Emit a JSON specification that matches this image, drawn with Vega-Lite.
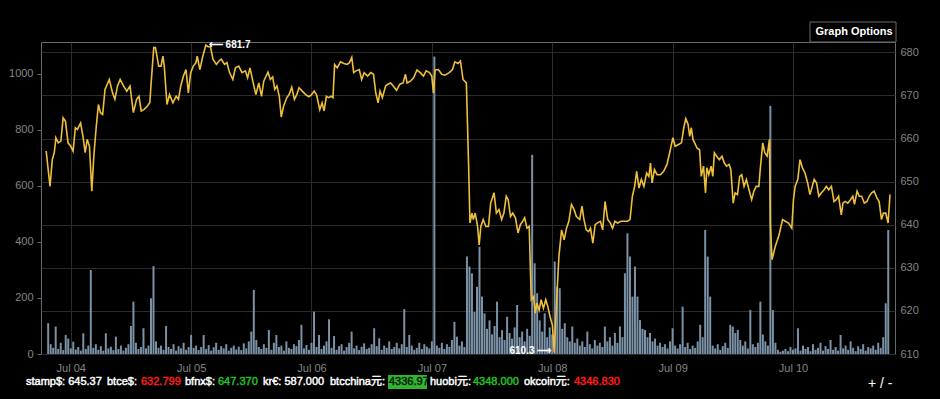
{
"$schema": "https://vega.github.io/schema/vega-lite/v6.json",
"width": 854, "height": 312, "autosize": "none",
"padding": {"left": 41, "top": 42, "right": 45, "bottom": 45},
"background": "#000000",
"config": {
  "view": {"stroke": "#6a6a6a", "strokeWidth": 1},
  "font": "Liberation Sans",
  "axis": {"labelFont": "Liberation Sans", "labelFontSize": 11, "labelColor": "#858585", "domain": false, "gridColor": "#2c2c2c", "gridWidth": 1},
  "axisX": {"ticks": false, "labelPadding": 8, "grid": true, "format": "%b %d", "labelFlush": false, "tickCount": {"interval": "day", "step": 1}},
  "text": {"font": "Liberation Sans, Noto Sans CJK SC", "fontSize": 11, "baseline": "middle", "align": "left", "strokeWidth": 0.45}
},
"datasets": {
"volume": [
{"t":"2014-07-03T19:30","v":110},{"t":"2014-07-03T20:00","v":35},{"t":"2014-07-03T20:30","v":22},{"t":"2014-07-03T21:00","v":98},{"t":"2014-07-03T21:30","v":18},{"t":"2014-07-03T22:00","v":40},{"t":"2014-07-03T22:30","v":14},{"t":"2014-07-03T23:00","v":68},{"t":"2014-07-03T23:30","v":55},
{"t":"2014-07-04T00:00","v":20},{"t":"2014-07-04T00:30","v":44},{"t":"2014-07-04T01:00","v":16},{"t":"2014-07-04T01:30","v":25},{"t":"2014-07-04T02:00","v":12},{"t":"2014-07-04T02:30","v":74},{"t":"2014-07-04T03:00","v":18},{"t":"2014-07-04T03:30","v":30},{"t":"2014-07-04T04:00","v":300},{"t":"2014-07-04T04:30","v":22},{"t":"2014-07-04T05:00","v":35},{"t":"2014-07-04T05:30","v":15},{"t":"2014-07-04T06:00","v":28},{"t":"2014-07-04T06:30","v":12},{"t":"2014-07-04T07:00","v":74},{"t":"2014-07-04T07:30","v":20},{"t":"2014-07-04T08:00","v":26},{"t":"2014-07-04T08:30","v":14},{"t":"2014-07-04T09:00","v":62},{"t":"2014-07-04T09:30","v":18},{"t":"2014-07-04T10:00","v":30},{"t":"2014-07-04T10:30","v":12},{"t":"2014-07-04T11:00","v":22},{"t":"2014-07-04T11:30","v":35},{"t":"2014-07-04T12:00","v":100},{"t":"2014-07-04T12:30","v":187},{"t":"2014-07-04T13:00","v":40},{"t":"2014-07-04T13:30","v":18},{"t":"2014-07-04T14:00","v":25},{"t":"2014-07-04T14:30","v":92},{"t":"2014-07-04T15:00","v":20},{"t":"2014-07-04T15:30","v":30},{"t":"2014-07-04T16:00","v":199},{"t":"2014-07-04T16:30","v":314},{"t":"2014-07-04T17:00","v":45},{"t":"2014-07-04T17:30","v":22},{"t":"2014-07-04T18:00","v":30},{"t":"2014-07-04T18:30","v":15},{"t":"2014-07-04T19:00","v":100},{"t":"2014-07-04T19:30","v":25},{"t":"2014-07-04T20:00","v":18},{"t":"2014-07-04T20:30","v":35},{"t":"2014-07-04T21:00","v":12},{"t":"2014-07-04T21:30","v":28},{"t":"2014-07-04T22:00","v":20},{"t":"2014-07-04T22:30","v":40},{"t":"2014-07-04T23:00","v":15},{"t":"2014-07-04T23:30","v":25},
{"t":"2014-07-05T00:00","v":68},{"t":"2014-07-05T00:30","v":22},{"t":"2014-07-05T01:00","v":30},{"t":"2014-07-05T01:30","v":14},{"t":"2014-07-05T02:00","v":25},{"t":"2014-07-05T02:30","v":68},{"t":"2014-07-05T03:00","v":18},{"t":"2014-07-05T03:30","v":32},{"t":"2014-07-05T04:00","v":12},{"t":"2014-07-05T04:30","v":24},{"t":"2014-07-05T05:00","v":40},{"t":"2014-07-05T05:30","v":15},{"t":"2014-07-05T06:00","v":28},{"t":"2014-07-05T06:30","v":20},{"t":"2014-07-05T07:00","v":35},{"t":"2014-07-05T07:30","v":12},{"t":"2014-07-05T08:00","v":22},{"t":"2014-07-05T08:30","v":30},{"t":"2014-07-05T09:00","v":16},{"t":"2014-07-05T09:30","v":26},{"t":"2014-07-05T10:00","v":14},{"t":"2014-07-05T10:30","v":38},{"t":"2014-07-05T11:00","v":20},{"t":"2014-07-05T11:30","v":45},{"t":"2014-07-05T12:00","v":80},{"t":"2014-07-05T12:30","v":229},{"t":"2014-07-05T13:00","v":50},{"t":"2014-07-05T13:30","v":25},{"t":"2014-07-05T14:00","v":18},{"t":"2014-07-05T14:30","v":35},{"t":"2014-07-05T15:00","v":22},{"t":"2014-07-05T15:30","v":86},{"t":"2014-07-05T16:00","v":15},{"t":"2014-07-05T16:30","v":40},{"t":"2014-07-05T17:00","v":68},{"t":"2014-07-05T17:30","v":25},{"t":"2014-07-05T18:00","v":30},{"t":"2014-07-05T18:30","v":12},{"t":"2014-07-05T19:00","v":45},{"t":"2014-07-05T19:30","v":22},{"t":"2014-07-05T20:00","v":18},{"t":"2014-07-05T20:30","v":35},{"t":"2014-07-05T21:00","v":28},{"t":"2014-07-05T21:30","v":50},{"t":"2014-07-05T22:00","v":104},{"t":"2014-07-05T22:30","v":20},{"t":"2014-07-05T23:00","v":32},{"t":"2014-07-05T23:30","v":15},
{"t":"2014-07-06T00:00","v":40},{"t":"2014-07-06T00:30","v":151},{"t":"2014-07-06T01:00","v":25},{"t":"2014-07-06T01:30","v":68},{"t":"2014-07-06T02:00","v":18},{"t":"2014-07-06T02:30","v":30},{"t":"2014-07-06T03:00","v":45},{"t":"2014-07-06T03:30","v":124},{"t":"2014-07-06T04:00","v":22},{"t":"2014-07-06T04:30","v":64},{"t":"2014-07-06T05:00","v":15},{"t":"2014-07-06T05:30","v":28},{"t":"2014-07-06T06:00","v":35},{"t":"2014-07-06T06:30","v":12},{"t":"2014-07-06T07:00","v":25},{"t":"2014-07-06T07:30","v":40},{"t":"2014-07-06T08:00","v":80},{"t":"2014-07-06T08:30","v":20},{"t":"2014-07-06T09:00","v":30},{"t":"2014-07-06T09:30","v":14},{"t":"2014-07-06T10:00","v":26},{"t":"2014-07-06T10:30","v":38},{"t":"2014-07-06T11:00","v":18},{"t":"2014-07-06T11:30","v":22},{"t":"2014-07-06T12:00","v":35},{"t":"2014-07-06T12:30","v":92},{"t":"2014-07-06T13:00","v":28},{"t":"2014-07-06T13:30","v":56},{"t":"2014-07-06T14:00","v":15},{"t":"2014-07-06T14:30","v":30},{"t":"2014-07-06T15:00","v":22},{"t":"2014-07-06T15:30","v":45},{"t":"2014-07-06T16:00","v":18},{"t":"2014-07-06T16:30","v":25},{"t":"2014-07-06T17:00","v":40},{"t":"2014-07-06T17:30","v":20},{"t":"2014-07-06T18:00","v":35},{"t":"2014-07-06T18:30","v":160},{"t":"2014-07-06T19:00","v":25},{"t":"2014-07-06T19:30","v":68},{"t":"2014-07-06T20:00","v":30},{"t":"2014-07-06T20:30","v":15},{"t":"2014-07-06T21:00","v":22},{"t":"2014-07-06T21:30","v":40},{"t":"2014-07-06T22:00","v":18},{"t":"2014-07-06T22:30","v":35},{"t":"2014-07-06T23:00","v":26},{"t":"2014-07-06T23:30","v":20},
{"t":"2014-07-07T00:00","v":45},{"t":"2014-07-07T00:30","v":1062},{"t":"2014-07-07T01:00","v":30},{"t":"2014-07-07T01:30","v":22},{"t":"2014-07-07T02:00","v":40},{"t":"2014-07-07T02:30","v":18},{"t":"2014-07-07T03:00","v":35},{"t":"2014-07-07T03:30","v":25},{"t":"2014-07-07T04:00","v":50},{"t":"2014-07-07T04:30","v":115},{"t":"2014-07-07T05:00","v":62},{"t":"2014-07-07T05:30","v":30},{"t":"2014-07-07T06:00","v":45},{"t":"2014-07-07T06:30","v":25},{"t":"2014-07-07T07:00","v":348},{"t":"2014-07-07T07:30","v":312},{"t":"2014-07-07T08:00","v":288},{"t":"2014-07-07T08:30","v":150},{"t":"2014-07-07T09:00","v":240},{"t":"2014-07-07T09:30","v":383},{"t":"2014-07-07T10:00","v":205},{"t":"2014-07-07T10:30","v":145},{"t":"2014-07-07T11:00","v":90},{"t":"2014-07-07T11:30","v":120},{"t":"2014-07-07T12:00","v":70},{"t":"2014-07-07T12:30","v":100},{"t":"2014-07-07T13:00","v":187},{"t":"2014-07-07T13:30","v":60},{"t":"2014-07-07T14:00","v":85},{"t":"2014-07-07T14:30","v":50},{"t":"2014-07-07T15:00","v":133},{"t":"2014-07-07T15:30","v":75},{"t":"2014-07-07T16:00","v":55},{"t":"2014-07-07T16:30","v":95},{"t":"2014-07-07T17:00","v":175},{"t":"2014-07-07T17:30","v":60},{"t":"2014-07-07T18:00","v":80},{"t":"2014-07-07T18:30","v":45},{"t":"2014-07-07T19:00","v":90},{"t":"2014-07-07T19:30","v":65},{"t":"2014-07-07T20:00","v":711},{"t":"2014-07-07T20:30","v":324},{"t":"2014-07-07T21:00","v":217},{"t":"2014-07-07T21:30","v":120},{"t":"2014-07-07T22:00","v":80},{"t":"2014-07-07T22:30","v":145},{"t":"2014-07-07T23:00","v":60},{"t":"2014-07-07T23:30","v":95},
{"t":"2014-07-08T00:00","v":70},{"t":"2014-07-08T00:30","v":330},{"t":"2014-07-08T01:00","v":240},{"t":"2014-07-08T01:30","v":235},{"t":"2014-07-08T02:00","v":90},{"t":"2014-07-08T02:30","v":110},{"t":"2014-07-08T03:00","v":60},{"t":"2014-07-08T03:30","v":45},{"t":"2014-07-08T04:00","v":98},{"t":"2014-07-08T04:30","v":40},{"t":"2014-07-08T05:00","v":55},{"t":"2014-07-08T05:30","v":30},{"t":"2014-07-08T06:00","v":45},{"t":"2014-07-08T06:30","v":25},{"t":"2014-07-08T07:00","v":80},{"t":"2014-07-08T07:30","v":35},{"t":"2014-07-08T08:00","v":20},{"t":"2014-07-08T08:30","v":50},{"t":"2014-07-08T09:00","v":30},{"t":"2014-07-08T09:30","v":40},{"t":"2014-07-08T10:00","v":25},{"t":"2014-07-08T10:30","v":98},{"t":"2014-07-08T11:00","v":45},{"t":"2014-07-08T11:30","v":60},{"t":"2014-07-08T12:00","v":30},{"t":"2014-07-08T12:30","v":75},{"t":"2014-07-08T13:00","v":40},{"t":"2014-07-08T13:30","v":98},{"t":"2014-07-08T14:00","v":60},{"t":"2014-07-08T14:30","v":288},{"t":"2014-07-08T15:00","v":431},{"t":"2014-07-08T15:30","v":348},{"t":"2014-07-08T16:00","v":205},{"t":"2014-07-08T16:30","v":312},{"t":"2014-07-08T17:00","v":205},{"t":"2014-07-08T17:30","v":121},{"t":"2014-07-08T18:00","v":90},{"t":"2014-07-08T18:30","v":86},{"t":"2014-07-08T19:00","v":60},{"t":"2014-07-08T19:30","v":75},{"t":"2014-07-08T20:00","v":45},{"t":"2014-07-08T20:30","v":55},{"t":"2014-07-08T21:00","v":30},{"t":"2014-07-08T21:30","v":40},{"t":"2014-07-08T22:00","v":25},{"t":"2014-07-08T22:30","v":35},{"t":"2014-07-08T23:00","v":20},{"t":"2014-07-08T23:30","v":45},
{"t":"2014-07-09T00:00","v":92},{"t":"2014-07-09T00:30","v":30},{"t":"2014-07-09T01:00","v":20},{"t":"2014-07-09T01:30","v":35},{"t":"2014-07-09T02:00","v":169},{"t":"2014-07-09T02:30","v":25},{"t":"2014-07-09T03:00","v":40},{"t":"2014-07-09T03:30","v":18},{"t":"2014-07-09T04:00","v":30},{"t":"2014-07-09T04:30","v":22},{"t":"2014-07-09T05:00","v":45},{"t":"2014-07-09T05:30","v":104},{"t":"2014-07-09T06:00","v":60},{"t":"2014-07-09T06:30","v":443},{"t":"2014-07-09T07:00","v":348},{"t":"2014-07-09T07:30","v":205},{"t":"2014-07-09T08:00","v":30},{"t":"2014-07-09T08:30","v":20},{"t":"2014-07-09T09:00","v":35},{"t":"2014-07-09T09:30","v":15},{"t":"2014-07-09T10:00","v":28},{"t":"2014-07-09T10:30","v":40},{"t":"2014-07-09T11:00","v":22},{"t":"2014-07-09T11:30","v":104},{"t":"2014-07-09T12:00","v":98},{"t":"2014-07-09T12:30","v":75},{"t":"2014-07-09T13:00","v":86},{"t":"2014-07-09T13:30","v":50},{"t":"2014-07-09T14:00","v":30},{"t":"2014-07-09T14:30","v":45},{"t":"2014-07-09T15:00","v":20},{"t":"2014-07-09T15:30","v":157},{"t":"2014-07-09T16:00","v":35},{"t":"2014-07-09T16:30","v":25},{"t":"2014-07-09T17:00","v":40},{"t":"2014-07-09T17:30","v":187},{"t":"2014-07-09T18:00","v":70},{"t":"2014-07-09T18:30","v":45},{"t":"2014-07-09T19:00","v":30},{"t":"2014-07-09T19:30","v":886},{"t":"2014-07-09T20:00","v":157},{"t":"2014-07-09T20:30","v":40},{"t":"2014-07-09T21:00","v":15},{"t":"2014-07-09T21:30","v":8},{"t":"2014-07-09T22:00","v":12},{"t":"2014-07-09T22:30","v":18},{"t":"2014-07-09T23:00","v":10},{"t":"2014-07-09T23:30","v":25},
{"t":"2014-07-10T00:00","v":15},{"t":"2014-07-10T00:30","v":20},{"t":"2014-07-10T01:00","v":92},{"t":"2014-07-10T01:30","v":12},{"t":"2014-07-10T02:00","v":30},{"t":"2014-07-10T02:30","v":18},{"t":"2014-07-10T03:00","v":25},{"t":"2014-07-10T03:30","v":10},{"t":"2014-07-10T04:00","v":35},{"t":"2014-07-10T04:30","v":15},{"t":"2014-07-10T05:00","v":22},{"t":"2014-07-10T05:30","v":40},{"t":"2014-07-10T06:00","v":12},{"t":"2014-07-10T06:30","v":28},{"t":"2014-07-10T07:00","v":18},{"t":"2014-07-10T07:30","v":50},{"t":"2014-07-10T08:00","v":15},{"t":"2014-07-10T08:30","v":25},{"t":"2014-07-10T09:00","v":12},{"t":"2014-07-10T09:30","v":68},{"t":"2014-07-10T10:00","v":20},{"t":"2014-07-10T10:30","v":30},{"t":"2014-07-10T11:00","v":15},{"t":"2014-07-10T11:30","v":45},{"t":"2014-07-10T12:00","v":22},{"t":"2014-07-10T12:30","v":10},{"t":"2014-07-10T13:00","v":28},{"t":"2014-07-10T13:30","v":18},{"t":"2014-07-10T14:00","v":35},{"t":"2014-07-10T14:30","v":12},{"t":"2014-07-10T15:00","v":25},{"t":"2014-07-10T15:30","v":20},{"t":"2014-07-10T16:00","v":30},{"t":"2014-07-10T16:30","v":15},{"t":"2014-07-10T17:00","v":40},{"t":"2014-07-10T17:30","v":22},{"t":"2014-07-10T18:00","v":60},{"t":"2014-07-10T18:30","v":181},{"t":"2014-07-10T19:00","v":443}
],
"price": [
{"t":"2014-07-03T19:06","p":657.1},{"t":"2014-07-03T19:52","p":648.9},{"t":"2014-07-03T20:19","p":655.1},{"t":"2014-07-03T20:43","p":656.7},{"t":"2014-07-03T21:02","p":660.2},{"t":"2014-07-03T21:30","p":659.0},{"t":"2014-07-03T22:02","p":659.4},{"t":"2014-07-03T22:29","p":664.8},{"t":"2014-07-03T22:57","p":664.0},{"t":"2014-07-03T23:28","p":659.0},
{"t":"2014-07-04T00:00","p":658.2},{"t":"2014-07-04T00:28","p":657.1},{"t":"2014-07-04T00:55","p":662.5},{"t":"2014-07-04T01:19","p":662.1},{"t":"2014-07-04T01:58","p":663.6},{"t":"2014-07-04T02:26","p":660.5},{"t":"2014-07-04T02:53","p":656.7},{"t":"2014-07-04T03:17","p":659.8},{"t":"2014-07-04T03:44","p":658.2},{"t":"2014-07-04T04:12","p":647.8},{"t":"2014-07-04T04:36","p":655.9},{"t":"2014-07-04T05:04","p":662.5},{"t":"2014-07-04T05:31","p":667.9},{"t":"2014-07-04T05:55","p":666.0},{"t":"2014-07-04T06:22","p":665.6},{"t":"2014-07-04T06:50","p":671.4},{"t":"2014-07-04T07:41","p":673.7},{"t":"2014-07-04T08:20","p":670.6},{"t":"2014-07-04T08:48","p":669.1},{"t":"2014-07-04T09:20","p":672.2},{"t":"2014-07-04T09:51","p":673.7},{"t":"2014-07-04T10:31","p":672.2},{"t":"2014-07-04T11:10","p":671.0},{"t":"2014-07-04T11:49","p":672.2},{"t":"2014-07-04T12:29","p":666.0},{"t":"2014-07-04T13:08","p":669.1},{"t":"2014-07-04T13:36","p":669.8},{"t":"2014-07-04T14:03","p":666.4},{"t":"2014-07-04T14:35","p":666.7},{"t":"2014-07-04T15:14","p":667.5},{"t":"2014-07-04T15:46","p":668.3},{"t":"2014-07-04T16:02","p":672.9},{"t":"2014-07-04T16:33","p":681.1},{"t":"2014-07-04T16:53","p":681.1},{"t":"2014-07-04T17:32","p":676.8},{"t":"2014-07-04T18:00","p":676.8},{"t":"2014-07-04T18:23","p":679.1},{"t":"2014-07-04T18:39","p":676.8},{"t":"2014-07-04T19:11","p":667.9},{"t":"2014-07-04T19:42","p":670.2},{"t":"2014-07-04T20:22","p":668.3},{"t":"2014-07-04T21:01","p":669.8},{"t":"2014-07-04T21:29","p":669.1},{"t":"2014-07-04T21:56","p":672.2},{"t":"2014-07-04T22:28","p":674.5},{"t":"2014-07-04T22:59","p":676.0},{"t":"2014-07-04T23:27","p":670.6},{"t":"2014-07-04T23:55","p":675.3},
{"t":"2014-07-05T00:26","p":676.8},{"t":"2014-07-05T00:58","p":677.6},{"t":"2014-07-05T01:13","p":679.1},{"t":"2014-07-05T01:45","p":676.0},{"t":"2014-07-05T02:16","p":678.8},{"t":"2014-07-05T02:56","p":681.7},{"t":"2014-07-05T03:23","p":681.3},{"t":"2014-07-05T03:51","p":681.3},{"t":"2014-07-05T04:22","p":678.4},{"t":"2014-07-05T05:02","p":677.2},{"t":"2014-07-05T05:34","p":678.0},{"t":"2014-07-05T06:01","p":678.4},{"t":"2014-07-05T06:40","p":677.2},{"t":"2014-07-05T07:08","p":677.6},{"t":"2014-07-05T07:40","p":675.3},{"t":"2014-07-05T08:19","p":673.7},{"t":"2014-07-05T08:50","p":676.4},{"t":"2014-07-05T09:30","p":676.8},{"t":"2014-07-05T10:09","p":675.3},{"t":"2014-07-05T10:49","p":675.7},{"t":"2014-07-05T11:16","p":674.1},{"t":"2014-07-05T11:44","p":676.4},{"t":"2014-07-05T12:23","p":672.9},{"t":"2014-07-05T12:55","p":670.2},{"t":"2014-07-05T13:30","p":672.9},{"t":"2014-07-05T14:02","p":669.8},{"t":"2014-07-05T14:29","p":673.3},{"t":"2014-07-05T14:57","p":674.5},{"t":"2014-07-05T15:20","p":675.4},{"t":"2014-07-05T15:48","p":673.7},{"t":"2014-07-05T16:16","p":674.3},{"t":"2014-07-05T16:40","p":671.4},{"t":"2014-07-05T17:07","p":672.2},{"t":"2014-07-05T17:35","p":669.8},{"t":"2014-07-05T17:58","p":665.0},{"t":"2014-07-05T18:26","p":667.5},{"t":"2014-07-05T19:05","p":669.5},{"t":"2014-07-05T19:33","p":670.2},{"t":"2014-07-05T20:04","p":671.9},{"t":"2014-07-05T20:36","p":669.1},{"t":"2014-07-05T21:04","p":670.2},{"t":"2014-07-05T21:31","p":671.8},{"t":"2014-07-05T22:10","p":671.0},{"t":"2014-07-05T22:50","p":670.2},{"t":"2014-07-05T23:29","p":669.7},
{"t":"2014-07-06T00:01","p":670.2},{"t":"2014-07-06T00:32","p":671.0},{"t":"2014-07-06T01:00","p":670.2},{"t":"2014-07-06T01:39","p":666.7},{"t":"2014-07-06T02:07","p":668.3},{"t":"2014-07-06T02:31","p":666.4},{"t":"2014-07-06T02:58","p":669.8},{"t":"2014-07-06T03:26","p":669.5},{"t":"2014-07-06T03:57","p":669.8},{"t":"2014-07-06T04:17","p":669.5},{"t":"2014-07-06T04:37","p":677.2},{"t":"2014-07-06T05:08","p":676.4},{"t":"2014-07-06T05:47","p":677.8},{"t":"2014-07-06T06:27","p":677.4},{"t":"2014-07-06T07:07","p":677.2},{"t":"2014-07-06T07:34","p":677.6},{"t":"2014-07-06T08:02","p":678.8},{"t":"2014-07-06T08:25","p":675.3},{"t":"2014-07-06T08:53","p":675.7},{"t":"2014-07-06T09:32","p":676.0},{"t":"2014-07-06T10:00","p":673.7},{"t":"2014-07-06T10:31","p":675.3},{"t":"2014-07-06T11:11","p":674.5},{"t":"2014-07-06T11:50","p":675.3},{"t":"2014-07-06T12:22","p":674.9},{"t":"2014-07-06T12:49","p":670.6},{"t":"2014-07-06T13:17","p":668.3},{"t":"2014-07-06T13:40","p":671.0},{"t":"2014-07-06T14:08","p":669.5},{"t":"2014-07-06T14:47","p":672.2},{"t":"2014-07-06T15:15","p":672.6},{"t":"2014-07-06T15:47","p":672.9},{"t":"2014-07-06T16:18","p":672.2},{"t":"2014-07-06T16:58","p":671.2},{"t":"2014-07-06T17:37","p":672.6},{"t":"2014-07-06T18:16","p":672.9},{"t":"2014-07-06T18:44","p":674.9},{"t":"2014-07-06T19:04","p":672.9},{"t":"2014-07-06T19:43","p":673.3},{"t":"2014-07-06T20:22","p":674.1},{"t":"2014-07-06T21:02","p":675.9},{"t":"2014-07-06T21:41","p":675.3},{"t":"2014-07-06T22:20","p":674.5},{"t":"2014-07-06T22:52","p":675.7},{"t":"2014-07-06T23:32","p":675.3},{"t":"2014-07-06T23:59","p":674.5},
{"t":"2014-07-07T00:19","p":670.6},{"t":"2014-07-07T00:38","p":675.9},{"t":"2014-07-07T01:18","p":676.0},{"t":"2014-07-07T01:58","p":674.9},{"t":"2014-07-07T02:37","p":674.7},{"t":"2014-07-07T03:28","p":675.3},{"t":"2014-07-07T04:07","p":676.0},{"t":"2014-07-07T04:35","p":677.8},{"t":"2014-07-07T05:14","p":677.4},{"t":"2014-07-07T05:42","p":678.0},{"t":"2014-07-07T06:13","p":673.7},{"t":"2014-07-07T06:53","p":672.9},{"t":"2014-07-07T07:20","p":653.6},{"t":"2014-07-07T07:36","p":640.4},{"t":"2014-07-07T08:00","p":642.7},{"t":"2014-07-07T08:16","p":641.2},{"t":"2014-07-07T08:39","p":642.7},{"t":"2014-07-07T09:07","p":639.6},{"t":"2014-07-07T09:26","p":635.3},{"t":"2014-07-07T09:46","p":639.6},{"t":"2014-07-07T10:14","p":641.2},{"t":"2014-07-07T10:46","p":639.6},{"t":"2014-07-07T11:17","p":639.6},{"t":"2014-07-07T11:44","p":645.0},{"t":"2014-07-07T12:24","p":647.4},{"t":"2014-07-07T12:52","p":642.7},{"t":"2014-07-07T13:23","p":643.5},{"t":"2014-07-07T13:55","p":641.2},{"t":"2014-07-07T14:22","p":642.7},{"t":"2014-07-07T14:50","p":646.6},{"t":"2014-07-07T15:13","p":645.8},{"t":"2014-07-07T15:41","p":641.9},{"t":"2014-07-07T16:08","p":642.7},{"t":"2014-07-07T16:40","p":641.6},{"t":"2014-07-07T17:11","p":638.1},{"t":"2014-07-07T17:39","p":640.0},{"t":"2014-07-07T18:07","p":640.8},{"t":"2014-07-07T18:30","p":641.6},{"t":"2014-07-07T18:58","p":639.2},{"t":"2014-07-07T19:25","p":639.6},{"t":"2014-07-07T19:49","p":622.6},{"t":"2014-07-07T20:17","p":623.3},{"t":"2014-07-07T20:37","p":619.5},{"t":"2014-07-07T20:56","p":621.8},{"t":"2014-07-07T21:24","p":620.2},{"t":"2014-07-07T21:47","p":622.6},{"t":"2014-07-07T22:15","p":620.6},{"t":"2014-07-07T22:43","p":622.6},{"t":"2014-07-07T23:07","p":621.0},{"t":"2014-07-07T23:34","p":618.7},
{"t":"2014-07-08T00:02","p":616.7},{"t":"2014-07-08T00:25","p":610.3},{"t":"2014-07-08T00:53","p":622.6},{"t":"2014-07-08T01:20","p":632.6},{"t":"2014-07-08T01:52","p":638.8},{"t":"2014-07-08T02:23","p":636.5},{"t":"2014-07-08T02:51","p":639.2},{"t":"2014-07-08T03:19","p":640.8},{"t":"2014-07-08T03:50","p":644.7},{"t":"2014-07-08T04:22","p":643.5},{"t":"2014-07-08T04:49","p":641.9},{"t":"2014-07-08T05:29","p":641.2},{"t":"2014-07-08T05:56","p":644.3},{"t":"2014-07-08T06:20","p":641.2},{"t":"2014-07-08T06:47","p":638.8},{"t":"2014-07-08T07:15","p":638.4},{"t":"2014-07-08T07:38","p":639.2},{"t":"2014-07-08T08:06","p":635.7},{"t":"2014-07-08T08:34","p":640.0},{"t":"2014-07-08T09:05","p":640.5},{"t":"2014-07-08T09:37","p":640.8},{"t":"2014-07-08T10:04","p":638.8},{"t":"2014-07-08T10:32","p":645.4},{"t":"2014-07-08T11:04","p":641.2},{"t":"2014-07-08T11:35","p":640.4},{"t":"2014-07-08T12:02","p":639.2},{"t":"2014-07-08T12:30","p":640.8},{"t":"2014-07-08T13:02","p":640.4},{"t":"2014-07-08T13:41","p":640.8},{"t":"2014-07-08T14:20","p":640.8},{"t":"2014-07-08T15:00","p":640.8},{"t":"2014-07-08T15:31","p":641.2},{"t":"2014-07-08T15:59","p":646.6},{"t":"2014-07-08T16:26","p":648.9},{"t":"2014-07-08T16:50","p":652.4},{"t":"2014-07-08T17:18","p":648.5},{"t":"2014-07-08T17:46","p":650.5},{"t":"2014-07-08T18:17","p":648.9},{"t":"2014-07-08T18:49","p":652.0},{"t":"2014-07-08T19:16","p":651.2},{"t":"2014-07-08T19:36","p":654.3},{"t":"2014-07-08T19:55","p":649.7},{"t":"2014-07-08T20:23","p":652.8},{"t":"2014-07-08T20:55","p":651.6},{"t":"2014-07-08T21:34","p":651.6},{"t":"2014-07-08T22:13","p":652.4},{"t":"2014-07-08T22:53","p":654.0},{"t":"2014-07-08T23:25","p":656.7},
{"t":"2014-07-09T00:04","p":660.2},{"t":"2014-07-09T00:31","p":658.2},{"t":"2014-07-09T01:11","p":658.6},{"t":"2014-07-09T01:46","p":659.0},{"t":"2014-07-09T02:14","p":662.5},{"t":"2014-07-09T02:38","p":664.6},{"t":"2014-07-09T03:05","p":663.3},{"t":"2014-07-09T03:25","p":660.5},{"t":"2014-07-09T03:44","p":662.5},{"t":"2014-07-09T04:04","p":659.8},{"t":"2014-07-09T04:24","p":659.0},{"t":"2014-07-09T04:52","p":657.8},{"t":"2014-07-09T05:23","p":657.4},{"t":"2014-07-09T05:43","p":651.2},{"t":"2014-07-09T06:10","p":653.6},{"t":"2014-07-09T06:34","p":647.4},{"t":"2014-07-09T06:50","p":653.2},{"t":"2014-07-09T07:13","p":651.6},{"t":"2014-07-09T07:41","p":653.6},{"t":"2014-07-09T08:01","p":651.2},{"t":"2014-07-09T08:20","p":656.7},{"t":"2014-07-09T08:48","p":655.9},{"t":"2014-07-09T09:19","p":655.1},{"t":"2014-07-09T09:51","p":655.9},{"t":"2014-07-09T10:19","p":654.3},{"t":"2014-07-09T10:46","p":653.6},{"t":"2014-07-09T11:17","p":654.0},{"t":"2014-07-09T11:37","p":652.8},{"t":"2014-07-09T12:05","p":645.0},{"t":"2014-07-09T12:28","p":647.4},{"t":"2014-07-09T12:56","p":647.0},{"t":"2014-07-09T13:23","p":651.2},{"t":"2014-07-09T13:47","p":651.6},{"t":"2014-07-09T14:15","p":648.9},{"t":"2014-07-09T14:43","p":650.5},{"t":"2014-07-09T15:14","p":648.1},{"t":"2014-07-09T15:46","p":645.8},{"t":"2014-07-09T16:13","p":647.8},{"t":"2014-07-09T16:41","p":648.9},{"t":"2014-07-09T17:12","p":648.9},{"t":"2014-07-09T17:32","p":653.6},{"t":"2014-07-09T17:59","p":659.0},{"t":"2014-07-09T18:23","p":656.7},{"t":"2014-07-09T18:51","p":655.9},{"t":"2014-07-09T19:19","p":659.8},{"t":"2014-07-09T19:30","p":640.0},{"t":"2014-07-09T19:50","p":631.9},{"t":"2014-07-09T20:29","p":635.0},{"t":"2014-07-09T21:09","p":637.3},{"t":"2014-07-09T21:56","p":641.2},{"t":"2014-07-09T22:28","p":640.8},{"t":"2014-07-09T23:07","p":640.4},{"t":"2014-07-09T23:46","p":639.2},
{"t":"2014-07-10T00:06","p":645.8},{"t":"2014-07-10T00:26","p":648.9},{"t":"2014-07-10T00:58","p":650.5},{"t":"2014-07-10T01:25","p":655.1},{"t":"2014-07-10T01:53","p":653.2},{"t":"2014-07-10T02:24","p":652.0},{"t":"2014-07-10T02:56","p":649.7},{"t":"2014-07-10T03:23","p":647.0},{"t":"2014-07-10T03:51","p":648.9},{"t":"2014-07-10T04:14","p":650.5},{"t":"2014-07-10T04:42","p":649.7},{"t":"2014-07-10T05:10","p":646.6},{"t":"2014-07-10T05:41","p":647.4},{"t":"2014-07-10T06:13","p":648.1},{"t":"2014-07-10T06:40","p":648.9},{"t":"2014-07-10T07:08","p":648.1},{"t":"2014-07-10T07:40","p":648.9},{"t":"2014-07-10T08:11","p":645.4},{"t":"2014-07-10T08:38","p":645.8},{"t":"2014-07-10T09:06","p":646.6},{"t":"2014-07-10T09:38","p":642.3},{"t":"2014-07-10T09:58","p":645.0},{"t":"2014-07-10T10:25","p":645.4},{"t":"2014-07-10T10:56","p":645.0},{"t":"2014-07-10T11:28","p":645.8},{"t":"2014-07-10T11:56","p":646.6},{"t":"2014-07-10T12:16","p":644.7},{"t":"2014-07-10T12:47","p":647.8},{"t":"2014-07-10T13:14","p":646.6},{"t":"2014-07-10T13:42","p":646.6},{"t":"2014-07-10T14:14","p":645.0},{"t":"2014-07-10T14:46","p":645.4},{"t":"2014-07-10T15:13","p":646.6},{"t":"2014-07-10T15:41","p":647.4},{"t":"2014-07-10T16:12","p":647.8},{"t":"2014-07-10T16:44","p":646.2},{"t":"2014-07-10T17:11","p":645.4},{"t":"2014-07-10T17:39","p":641.2},{"t":"2014-07-10T18:02","p":642.7},{"t":"2014-07-10T18:30","p":642.7},{"t":"2014-07-10T18:58","p":640.4},{"t":"2014-07-10T19:21","p":647.0}
]
},
"layer": [
  {
    "data": {"name": "volume"},
    "mark": {"type": "bar", "color": "#7a91a6", "width": 2},
    "encoding": {
      "x": {"field": "t", "type": "temporal", "axis": {"title": null},
            "scale": {"domain": [{"year": 2014, "month": "jul", "date": 3, "hours": 19, "minutes": 4}, {"year": 2014, "month": "jul", "date": 10, "hours": 19, "minutes": 21}]}},
      "y": {"field": "v", "type": "quantitative", "scale": {"domain": [0, 1114], "nice": false},
            "axis": {"title": null, "orient": "left", "format": "d", "values": [0, 200, 400, 600, 800, 1000], "grid": false, "ticks": true, "tickSize": 4, "tickColor": "#6a6a6a", "labelPadding": 4}}
    }
  },
  {
    "data": {"name": "price"},
    "encoding": {
      "x": {"field": "t", "type": "temporal", "axis": {"title": null}},
      "y": {"field": "p", "type": "quantitative", "scale": {"domain": [610, 682.4], "nice": false, "zero": false},
            "axis": {"title": null, "orient": "right", "values": [610, 620, 630, 640, 650, 660, 670, 680], "grid": true, "ticks": false, "labelPadding": 5}}
    },
    "layer": [
      {"mark": {"type": "line", "color": "#eebf3a", "strokeWidth": 1.6}},
      {"data": {"values": [{"t": "2014-07-05T02:56", "p": 681.7, "label": "⟵ 681.7"}]},
       "mark": {"type": "text", "align": "left", "baseline": "middle", "dx": 3, "color": "#ffffff", "fontWeight": "bold", "fontSize": 10, "font": "Liberation Sans", "strokeWidth": 0},
       "encoding": {"text": {"field": "label"}}},
      {"data": {"values": [{"t": "2014-07-08T00:25", "p": 610.3, "label": "610.3 ⟶"}]},
       "mark": {"type": "text", "align": "right", "baseline": "middle", "dx": -3, "dy": -2, "color": "#ffffff", "fontWeight": "bold", "fontSize": 10, "font": "Liberation Sans", "strokeWidth": 0},
       "encoding": {"text": {"field": "label"}}}
    ]
  },
  {"data": {"values": [{}]}, "mark": {"type": "rect", "fill": "#000000", "stroke": "#6a6a6a", "strokeWidth": 1},
   "encoding": {"x": {"value": 769}, "x2": {"value": 855}, "y": {"value": -20}, "y2": {"value": 0}}},
  {"data": {"values": [{}]}, "mark": {"type": "text", "text": "Graph Options", "align": "center", "color": "#ffffff", "fontWeight": "bold", "strokeWidth": 0},
   "encoding": {"x": {"value": 813}, "y": {"value": -10}}},
  {"data": {"values": [{}]}, "mark": {"type": "text", "text": "stamp$: 645.37", "color": "#ffffff", "stroke": "#ffffff"},
   "encoding": {"x": {"value": -15}, "y": {"value": 340}}},
  {"data": {"values": [{}]}, "mark": {"type": "text", "text": "btce$:", "color": "#ffffff", "stroke": "#ffffff"},
   "encoding": {"x": {"value": 66}, "y": {"value": 340}}},
  {"data": {"values": [{}]}, "mark": {"type": "text", "text": "632.799", "color": "#ff1a1a", "stroke": "#ff1a1a"},
   "encoding": {"x": {"value": 100}, "y": {"value": 340}}},
  {"data": {"values": [{}]}, "mark": {"type": "text", "text": "bfnx$:", "color": "#ffffff", "stroke": "#ffffff"},
   "encoding": {"x": {"value": 144}, "y": {"value": 340}}},
  {"data": {"values": [{}]}, "mark": {"type": "text", "text": "647.370", "color": "#22c322", "stroke": "#22c322"},
   "encoding": {"x": {"value": 177}, "y": {"value": 340}}},
  {"data": {"values": [{}]}, "mark": {"type": "text", "text": "kr€: 587.000", "color": "#ffffff", "stroke": "#ffffff"},
   "encoding": {"x": {"value": 222}, "y": {"value": 340}}},
  {"data": {"values": [{}]}, "mark": {"type": "text", "text": "btcchina元:", "color": "#ffffff", "stroke": "#ffffff"},
   "encoding": {"x": {"value": 289}, "y": {"value": 340}}},
  {"data": {"values": [{}]}, "mark": {"type": "rect", "fill": "#2fb52f"},
   "encoding": {"x": {"value": 347}, "x2": {"value": 386}, "y": {"value": 333}, "y2": {"value": 347}}},
  {"data": {"values": [{}]}, "mark": {"type": "text", "text": "4336.97", "color": "#0b1a0b", "stroke": "#0b1a0b"},
   "encoding": {"x": {"value": 348}, "y": {"value": 340}}},
  {"data": {"values": [{}]}, "mark": {"type": "text", "text": "huobi元:", "color": "#ffffff", "stroke": "#ffffff"},
   "encoding": {"x": {"value": 389}, "y": {"value": 340}}},
  {"data": {"values": [{}]}, "mark": {"type": "text", "text": "4348.000", "color": "#22c322", "stroke": "#22c322"},
   "encoding": {"x": {"value": 432}, "y": {"value": 340}}},
  {"data": {"values": [{}]}, "mark": {"type": "text", "text": "okcoin元:", "color": "#ffffff", "stroke": "#ffffff"},
   "encoding": {"x": {"value": 483}, "y": {"value": 340}}},
  {"data": {"values": [{}]}, "mark": {"type": "text", "text": "4346.830", "color": "#ff1a1a", "stroke": "#ff1a1a"},
   "encoding": {"x": {"value": 533}, "y": {"value": 340}}},
  {"data": {"values": [{}]}, "mark": {"type": "text", "text": "+ / -", "color": "#ffffff", "fontSize": 14, "font": "Liberation Sans", "strokeWidth": 0},
   "encoding": {"x": {"value": 827}, "y": {"value": 342}}}
],
"resolve": {"scale": {"y": "independent"}}
}
